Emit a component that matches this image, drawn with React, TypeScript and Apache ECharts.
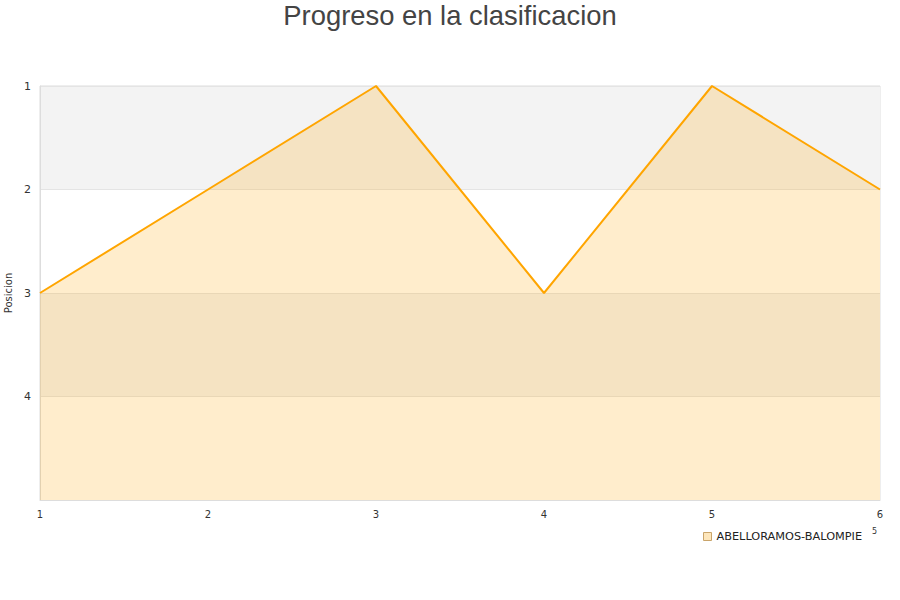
import React, { useEffect, useRef } from "react";
import * as echarts from "echarts";

const jornadas = ["1", "2", "3", "4", "5", "6"];
const posiciones = [3, 2, 1, 3, 1, 2];
const equipo = "ABELLORAMOS-BALOMPIE";

export default function App() {
  const ref = useRef<HTMLDivElement>(null);
  useEffect(() => {
    const chart = echarts.init(ref.current!, null, { renderer: "svg" });
    chart.setOption({
      animation: false,
      title: {
        text: "Progreso en la clasificacion",
        left: "center",
        top: -3,
        textStyle: { fontFamily: "Liberation Sans", fontSize: 27.4, fontWeight: "normal", color: "#444" },
      },
      grid: {
        left: 40,
        right: 20,
        top: 86,
        bottom: 100,
        show: true,
        borderColor: "#ddd",
        borderWidth: 1,
        containLabel: false,
        outerBoundsMode: "none",
      },
      legend: {
        left: 698,
        top: 526,
        icon: "rect",
        itemWidth: 8,
        itemHeight: 8,
        textStyle: { fontFamily: "DejaVu Sans", fontSize: 11.3, color: "#222" },
        data: [{ name: equipo, itemStyle: { color: "#fde6bb", borderColor: "#c9a46a", borderWidth: 1 } }],
      },
      xAxis: {
        type: "category",
        data: jornadas,
        boundaryGap: false,
        axisLine: { lineStyle: { color: "#ddd" } },
        axisTick: { show: false },
        axisLabel: { color: "#333", fontFamily: "DejaVu Sans", fontSize: 10, margin: 9 },
        splitLine: { show: false },
      },
      yAxis: {
        type: "value",
        inverse: true,
        min: 1,
        max: 5,
        interval: 1,
        name: "Posicion",
        nameLocation: "middle",
        nameGap: 26,
        nameTextStyle: { color: "#333", fontFamily: "DejaVu Sans", fontSize: 10 },
        axisLine: { show: true, lineStyle: { color: "#ddd" } },
        axisTick: { show: false },
        axisLabel: {
          color: "#333",
          fontFamily: "DejaVu Sans",
          fontSize: 11,
          margin: 9,
          formatter: (v: number) => (v === 5 ? "" : String(v)),
        },
        splitLine: { show: true, lineStyle: { color: "#e4e4e4" } },
        splitArea: { show: true, areaStyle: { color: ["#f3f3f3", "#ffffff"] } },
      },
      graphic: [
        { type: "text", left: 872, top: 527, style: { text: "5", fontSize: 8, fill: "#333", fontFamily: "DejaVu Sans" } },
      ],
      series: [
        {
          name: equipo,
          type: "line",
          data: posiciones,
          showSymbol: false,
          symbol: "none",
          lineStyle: { color: "#ffa500", width: 2 },
          itemStyle: { color: "#ffa500" },
          areaStyle: { color: "#ffa500", opacity: 0.2, origin: "end" },
        },
      ],
    });
    return () => chart.dispose();
  }, []);
  return <div ref={ref} style={{ width: 900, height: 600, position: "absolute", left: 0, top: 0 }} />;
}
